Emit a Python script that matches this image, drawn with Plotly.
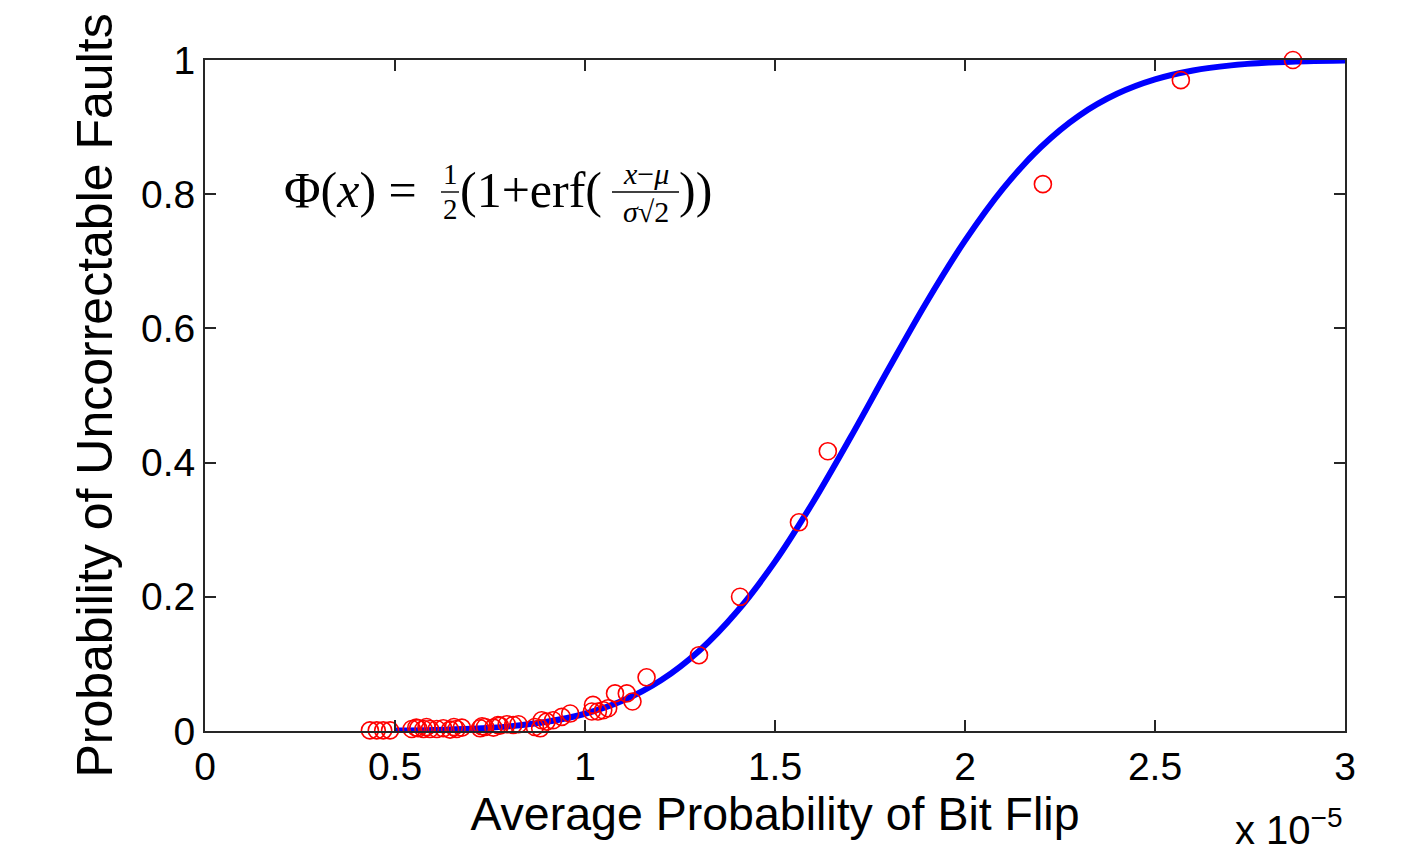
import plotly.graph_objects as go

# Observed data (x in units of 1e-5)
obs_x = [0.434, 0.452, 0.469, 0.487, 0.544, 0.556, 0.561, 0.575, 0.583, 0.592,
         0.610, 0.627, 0.645, 0.655, 0.662, 0.676, 0.724, 0.729, 0.737, 0.759,
         0.771, 0.776, 0.794, 0.811, 0.825, 0.868, 0.882, 0.886, 0.899, 0.916,
         0.939, 0.961, 1.018, 1.021, 1.034, 1.048, 1.061, 1.079, 1.110, 1.125,
         1.162, 1.300, 1.408, 1.563, 1.639, 2.205, 2.568, 2.863]
obs_y = [0.001, 0.001, 0.001, 0.001, 0.003, 0.005, 0.004, 0.003, 0.006, 0.003,
         0.003, 0.004, 0.002, 0.006, 0.003, 0.005, 0.004, 0.007, 0.006, 0.005,
         0.009, 0.008, 0.010, 0.009, 0.010, 0.006, 0.004, 0.016, 0.014, 0.016,
         0.021, 0.026, 0.029, 0.039, 0.029, 0.031, 0.034, 0.056, 0.056, 0.044,
         0.080, 0.113, 0.200, 0.311, 0.417, 0.815, 0.970, 1.000]

# Fitted CDF curve
fit_x = [0.5, 0.6, 0.7, 0.8, 0.9, 1.0, 1.1, 1.2, 1.3, 1.4, 1.5, 1.6, 1.7,
         1.8, 1.9, 2.0, 2.1, 2.2, 2.3, 2.4, 2.5, 2.6, 2.7, 2.8, 2.9, 3.0]
fit_y = [0.0006, 0.0015, 0.0033, 0.0069, 0.0137, 0.0257, 0.0453, 0.0755,
         0.1192, 0.178, 0.2524, 0.3409, 0.4388, 0.5409, 0.6402, 0.7308,
         0.8084, 0.8704, 0.917, 0.9496, 0.9711, 0.9844, 0.992, 0.9962,
         0.9983, 0.9993]

x_ticks = [0, 0.5, 1, 1.5, 2, 2.5, 3]
x_tick_text = ["0", "0.5", "1", "1.5", "2", "2.5", "3"]
y_ticks = [0, 0.2, 0.4, 0.6, 0.8, 1]
y_tick_text = ["0", "0.2", "0.4", "0.6", "0.8", "1"]

SANS = "Liberation Sans, Arial, Helvetica, sans-serif"
SERIF = "Liberation Serif, DejaVu Serif, Times New Roman, serif"

fig = go.Figure()
fig.add_trace(go.Scatter(x=fit_x, y=fit_y, mode="lines", line_shape="spline",
                         line=dict(color="#0000ff", width=6), cliponaxis=False,
                         showlegend=False, hoverinfo="skip"))
fig.add_trace(go.Scatter(x=obs_x, y=obs_y, mode="markers", cliponaxis=False,
                         marker=dict(symbol="circle-open", size=17, color="#ff0000",
                                     line=dict(width=1.6, color="#ff0000")),
                         showlegend=False))

axis_common = dict(showline=True, linecolor="#262626", linewidth=2, mirror="ticks",
                   ticks="inside", ticklen=11, tickwidth=1.5, tickcolor="#262626",
                   showgrid=False, zeroline=False,
                   tickfont=dict(family=SANS, size=39, color="#000000"))

fig.update_xaxes(range=[0, 3], tickvals=x_ticks, ticktext=x_tick_text,
                 title=dict(text="Average Probability of Bit Flip",
                            font=dict(family=SANS, size=46.5, color="#000000"),
                            standoff=8),
                 **axis_common)
fig.update_yaxes(range=[0, 1], tickvals=y_ticks, ticktext=y_tick_text,
                 title=dict(text="Probability of Uncorrectable Faults",
                            font=dict(family=SANS, size=50, color="#000000"),
                            standoff=12),
                 **axis_common)

# exponent label (bottom right, partly cut like the reference)
fig.add_annotation(xref="paper", yref="paper", x=1.0, y=-0.183, xanchor="right",
                   yanchor="bottom", showarrow=False,
                   text="x 10<sup>\u22125</sup>",
                   font=dict(family=SANS, size=40, color="#000000"))


# formula pieces, placed via pixel positions of the reference plot area
def px_x(p):
    return (p - 205) / 380.0


def px_y(p):
    return (731 - p) / 671.0


def ann(px, py, text, size, xanchor="left"):
    fig.add_annotation(x=px_x(px), y=px_y(py), xref="x", yref="y", text=text,
                       showarrow=False, xanchor=xanchor, yanchor="middle",
                       font=dict(family=SERIF, size=size, color="#000000"))


ann(282, 190, "\u03a6(<i>x</i>) =", 50)
ann(450, 174, "1", 29, "center")
ann(450, 209, "2", 29, "center")
ann(458, 190, "(1+erf(", 50)
ann(646, 173, "<i>x</i>\u2212<i>\u03bc</i>", 30, "center")
ann(646, 211, "<i>\u03c3</i>\u221a2", 30, "center")
ann(677, 190, "))", 50)
fig.add_shape(type="line", xref="x", yref="y", x0=px_x(441), x1=px_x(459),
              y0=px_y(192), y1=px_y(192), line=dict(color="#000000", width=1.4))
fig.add_shape(type="line", xref="x", yref="y", x0=px_x(612), x1=px_x(679),
              y0=px_y(192), y1=px_y(192), line=dict(color="#000000", width=1.4))

fig.update_layout(width=1405, height=841,
                  margin=dict(l=197, r=68, t=52, b=118, autoexpand=False),
                  plot_bgcolor="#ffffff", paper_bgcolor="#ffffff",
                  font=dict(family=SANS, color="#000000"))

fig.write_html("out.html")
